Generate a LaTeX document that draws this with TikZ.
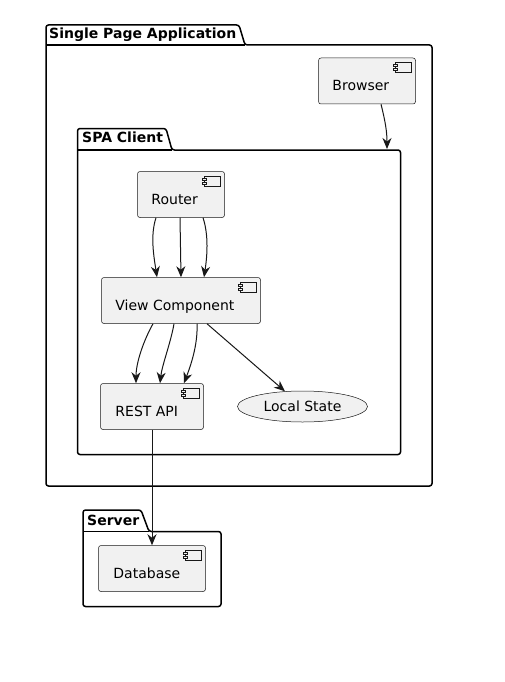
\documentclass[tikz,border=0pt]{standalone}
\usepackage{fontspec}
\setmainfont{DejaVu Sans}
\usetikzlibrary{arrows.meta,shapes.geometric}
\definecolor{ln}{HTML}{181818}
\definecolor{cf}{HTML}{F1F1F1}
\tikzset{
  comp/.style={draw=ln, fill=cf, line width=0.5pt, rounded corners=2.5pt, minimum width=#1, minimum height=46pt, inner sep=0pt},
  lbl/.style={font=\fontsize{14pt}{16pt}\selectfont, anchor=base west, inner sep=0pt, text=black},
  pkg/.style={draw=black, line width=1.5pt, rounded corners=2.5pt},
  pline/.style={draw=black, line width=1.5pt},
  ptitle/.style={font=\bfseries\fontsize{14pt}{16pt}\selectfont, anchor=base west, inner sep=0pt, text=black},
  conn/.style={draw=ln, line width=1pt, -{Stealth[length=11pt,width=9pt,inset=3.5pt]}},
  icon/.style={draw=ln, fill=cf, line width=0.5pt},
}
\newcommand\compicon[1]{%
  \draw[icon] ([xshift=-21pt,yshift=-5pt]#1.north east) rectangle ++(16pt,-10pt);
  \draw[icon] ([xshift=-23pt,yshift=-7pt]#1.north east) rectangle ++(4pt,-2pt);
  \draw[icon] ([xshift=-23pt,yshift=-11pt]#1.north east) rectangle ++(4pt,-2pt);
}
\begin{document}
\begin{tikzpicture}[x=1pt,y=-1pt]
\useasboundingbox (0,0) rectangle (505,682);
\fill[white] (0,0) rectangle (505,682);

% Single Page Application package
\draw[pkg] (46,45) -- (46,25) -- (239,25) -- (245,45) -- (432,45) -- (432,486) -- (46,486) -- cycle;
\draw[pline] (46,45) -- (245,45);
\node[ptitle] (spatitle) at (49,38.5) {Single Page Application};

% SPA Client package
\draw[pkg] (77.5,150) -- (77.5,128.5) -- (166,128.5) -- (172,150) -- (400.5,150) -- (400.5,454.5) -- (77.5,454.5) -- cycle;
\draw[pline] (77.5,150) -- (172,150);
\node[ptitle] (clienttitle) at (82,142.7) {SPA Client};
\coordinate (clienttop) at (387,149);

% Server package
\draw[pkg] (83,531.5) -- (83,510) -- (141,510) -- (149,531.5) -- (221,531.5) -- (221,606.5) -- (83,606.5) -- cycle;
\draw[pline] (83,531.5) -- (149,531.5);
\node[ptitle] (servertitle) at (87,525.5) {Server};

% Components
\node[comp=97pt] (browser) at (367,81) {};
\compicon{browser}
\node[lbl] (browserl) at ([xshift=14pt,yshift=-10pt]browser.west) {Browser};

\node[comp=87pt] (router) at (181,194.5) {};
\compicon{router}
\node[lbl] (routerl) at ([xshift=14pt,yshift=-10pt]router.west) {Router};

\node[comp=159pt] (view) at (181,300.5) {};
\compicon{view}
\node[lbl] (viewl) at ([xshift=14pt,yshift=-10pt]view.west) {View Component};

\node[comp=103pt] (rest) at (152,406.5) {};
\compicon{rest}
\node[lbl] (restl) at ([xshift=15pt,yshift=-10pt]rest.west) {REST API};

\node[draw=ln, fill=cf, line width=0.5pt, ellipse, minimum width=130pt, minimum height=31pt, inner sep=0pt,
      font=\fontsize{14pt}{16pt}\selectfont] (local) at (302.5,406.5) {Local State};

\node[comp=107pt] (db) at (152,568.5) {};
\compicon{db}
\node[lbl] (dbl) at ([xshift=15pt,yshift=-10pt]db.west) {Database};

% Connectors
\draw[conn] ([xshift=14pt]browser.south) .. controls +(4,16) and +(0,-18) .. (clienttop);

\draw[conn] ([xshift=-25pt]router.south) .. controls +(-6,18) and +(-3,-20) .. ([xshift=-24pt]view.north);
\draw[conn] ([xshift=-1pt]router.south) -- (view.north);
\draw[conn] ([xshift=22pt]router.south) .. controls +(6,18) and +(3,-20) .. ([xshift=23pt]view.north);

\draw[conn] ([xshift=-28pt]view.south) .. controls +(-10,18) and +(0,-20) .. ([xshift=-16pt]rest.north);
\draw[conn] ([xshift=-7pt]view.south) .. controls +(-3,18) and +(2,-18) .. ([xshift=8pt]rest.north);
\draw[conn] ([xshift=16pt]view.south) .. controls +(1,22) and +(6,-16) .. ([xshift=32pt]rest.north);

\draw[conn] ([xshift=26pt]view.south) -- (local);

\draw[conn] (rest.south) -- (db.north);
\end{tikzpicture}
\end{document}
